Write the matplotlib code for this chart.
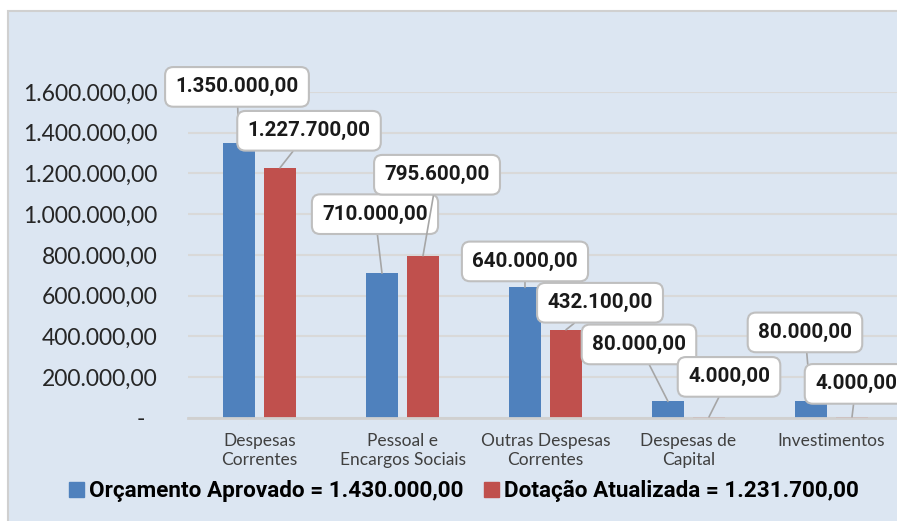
import numpy as np
import matplotlib
matplotlib.use("Agg")
import matplotlib.pyplot as plt
from matplotlib.patches import Rectangle
from matplotlib.ticker import FuncFormatter

categories = ["Despesas\nCorrentes", "Pessoal e\nEncargos Sociais", "Outras Despesas\nCorrentes",
              "Despesas de\nCapital", "Investimentos"]
orcamento = [1350000, 710000, 640000, 80000, 80000]
dotacao = [1227700, 795600, 432100, 4000, 4000]
legend_labels = ["Orçamento Aprovado = 1.430.000,00", "Dotação Atualizada = 1.231.700,00"]
yticks = [0, 200000, 400000, 600000, 800000, 1000000, 1200000, 1400000, 1600000]

# label box offsets from bar top, in pixels
off_orc = [(-2, 56), (-7, 59), (0, 26), (-29, 57), (-6, 69)]
off_dot = [(29, 37), (14, 81), (34, 27), (20, 40), (4, 33)]

BLUE = "#4f81bd"
RED = "#c0504d"
BG = "#dce6f2"


def brl(v, pos=None):
    if v == 0:
        return "-  "
    s = "{:,.2f}".format(v)
    return s.replace(",", "X").replace(".", ",").replace("X", ".")


fig = plt.figure(figsize=(8.97, 5.21), dpi=100)
fig.patch.set_facecolor("white")
bg = Rectangle((8 / 897, -0.1), 1.2, (510 / 521) + 0.1, transform=fig.transFigure,
               facecolor=BG, edgecolor="#d0d0d0", linewidth=1.5, zorder=-10)
fig.patches.append(bg)

ax = fig.add_axes([188 / 897, 103.3 / 521, 715 / 897, 325.7 / 521])
ax.set_facecolor("none")

x = np.arange(len(categories))
w = 0.224
b1 = ax.bar(x - 0.1435, orcamento, w, color=BLUE, zorder=3)
b2 = ax.bar(x + 0.1435, dotacao, w, color=RED, zorder=3)

ax.set_xlim(-0.5, len(categories) - 0.5)
ax.set_ylim(0, 1600000)
ax.set_yticks(yticks)
ax.yaxis.set_major_formatter(FuncFormatter(brl))
ax.set_xticks(x)
ax.set_xticklabels(categories, fontsize=12.5, color="#404040", family="Lato", linespacing=1.2)
for t in ax.get_yticklabels():
    t.set_fontsize(16.5)
    t.set_family("Lato")
    t.set_color("#262626")
ax.tick_params(axis="both", length=0)
ax.tick_params(axis="y", pad=22)
ax.tick_params(axis="x", pad=11)
ax.grid(axis="y", color="#d9d9d9", linewidth=1.5, zorder=0)
for s in ["top", "right", "left"]:
    ax.spines[s].set_visible(False)
ax.spines["bottom"].set_color("#d0d0d0")
ax.spines["bottom"].set_linewidth(2)
ax.spines["bottom"].set_zorder(4)

bbox = dict(boxstyle="round,pad=0.5,rounding_size=0.4", facecolor="white", edgecolor="#bfbfbf", linewidth=1.5)
for bars, vals, offs in [(b1, orcamento, off_orc), (b2, dotacao, off_dot)]:
    for bar, v, (dx, dy) in zip(bars, vals, offs):
        ax.annotate(brl(v), xy=(bar.get_x() + bar.get_width() / 2, v), xytext=(dx, dy),
                    textcoords="offset pixels", ha="center", va="center",
                    fontsize=14.8, fontweight="bold", family="Roboto", color="#1a1a1a",
                    bbox=bbox, annotation_clip=False, zorder=5,
                    arrowprops=dict(arrowstyle="-", color="#a6a6a6", linewidth=1.2,
                                    shrinkA=0, shrinkB=0))

handles = [Rectangle((0, 0), 1, 1, color=BLUE), Rectangle((0, 0), 1, 1, color=RED)]
fig.legend(handles, legend_labels, loc="center", bbox_to_anchor=(464 / 897, 1 - 491 / 521), ncol=2,
           frameon=False, prop=dict(family="Roboto", weight="bold", size=16.2),
           handlelength=0.65, handleheight=0.65, handletextpad=0.25, columnspacing=0.9)

fig.savefig("out.png", dpi=100, facecolor="white")
